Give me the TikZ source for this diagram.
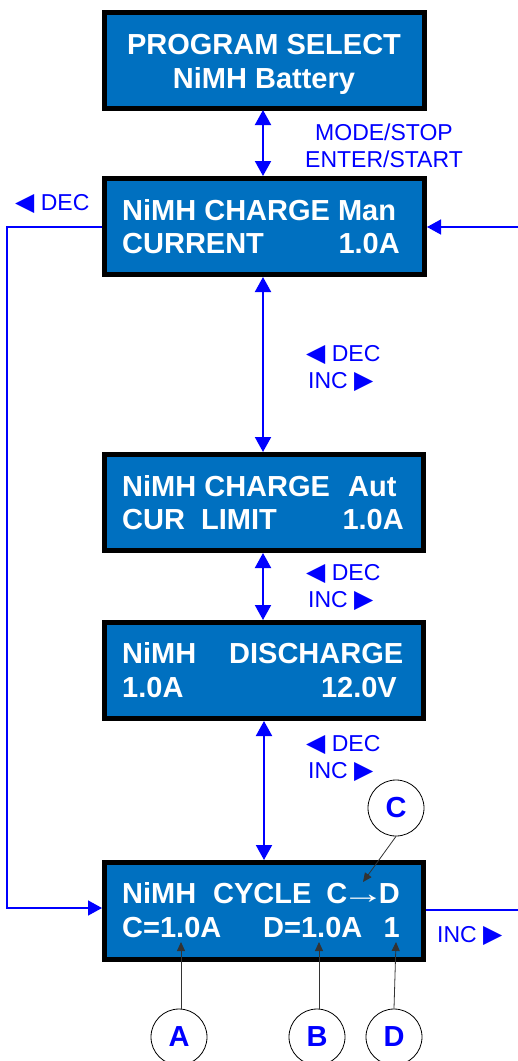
\documentclass[tikz,border=0pt]{standalone}
\usepackage{fontspec}
\setmainfont{Liberation Sans}
\newfontfamily\symfont{DejaVu Sans}
\usetikzlibrary{arrows.meta}
\definecolor{lcdblue}{RGB}{0,112,192}
\definecolor{linkblue}{RGB}{0,0,255}
\newcommand{\lefttri}{{\symfont\fontsize{25}{27}\selectfont ◀}}
\newcommand{\righttri}{{\symfont\fontsize{25}{27}\selectfont ▶}}
\tikzset{
  lcd/.style={draw=black,line width=5pt,fill=lcdblue},
  lcdtxt/.style={text=white,font=\fontsize{29}{34}\selectfont\bfseries,inner sep=0pt},
  lbl/.style={text=linkblue,font=\fontsize{23}{27}\selectfont,inner sep=0pt},
  link/.style={draw=linkblue,line width=2pt},
  loopline/.style={draw=linkblue,line width=1.4pt},
  bothtip/.style={{Triangle[width=16pt,length=15pt]}-{Triangle[width=16pt,length=15pt]}},
  endtip/.style={-{Triangle[width=15pt,length=14pt]}},
  callout/.style={circle,draw=black,line width=0.8pt,minimum size=56pt,inner sep=0pt,text=linkblue,font=\fontsize{29}{34}\selectfont\bfseries},
  pointer/.style={draw=black!80,line width=0.8pt,-{Triangle[width=8pt,length=9pt]}}
}
\begin{document}
\begin{tikzpicture}[x=1pt,y=-1pt]
\useasboundingbox (0,0) rectangle (518,1061);
% boxes
\path[lcd] (104.5,12.5) rectangle (424.5,108.5);
\path[lcd] (104.5,178.5) rectangle (424.5,274.5);
\path[lcd] (104.5,454.5) rectangle (423.5,550.5);
\path[lcd] (104.5,622.5) rectangle (423.5,718.5);
\path[lcd] (104.5,862.5) rectangle (423.5,959.5);
% anchors for connectors
\coordinate (b1b) at (263,110);
\coordinate (b2t) at (263,176);
\coordinate (b2b) at (263,277);
\coordinate (b3t) at (263,452);
\coordinate (b3b) at (263,553);
\coordinate (b4t) at (263,620);
\coordinate (b4b) at (264,721);
\coordinate (b5t) at (264,860);
\coordinate (b2l) at (102,227);
\coordinate (b2r) at (427,227);
\coordinate (b5l) at (102,908);
\coordinate (b5r) at (426,910);
\coordinate (leftc1) at (7,227);
\coordinate (leftc2) at (7,908);
\coordinate (rin) at (518,227);
\coordinate (rout) at (518,910);
% box texts
\node[lcdtxt,anchor=base] (t1a) at (264,54) {PROGRAM SELECT};
\node[lcdtxt,anchor=base] (t1b) at (264,88) {NiMH Battery};
\node[lcdtxt,anchor=base west] (t2a) at (122,220) {NiMH CHARGE Man};
\node[lcdtxt,anchor=base west] (t2b) at (122,253) {CURRENT};
\node[lcdtxt,anchor=base east] (t2c) at (400,253) {1.0A};
\node[lcdtxt,anchor=base west] (t3a) at (122,496) {NiMH CHARGE};
\node[lcdtxt,anchor=base west] (t3b) at (348,496) {Aut};
\node[lcdtxt,anchor=base west] (t3c) at (122,529) {CUR\ \ LIMIT};
\node[lcdtxt,anchor=base east] (t3d) at (404,529) {1.0A};
\node[lcdtxt,anchor=base west] (t4a) at (122,663) {NiMH};
\node[lcdtxt,anchor=base west] (t4b) at (229,663) {DISCHARGE};
\node[lcdtxt,anchor=base west] (t4c) at (122,697) {1.0A};
\node[lcdtxt,anchor=base east] (t4d) at (397,697) {12.0V};
\node[lcdtxt,anchor=base west] (t5a) at (122,903) {NiMH};
\node[lcdtxt,anchor=base west] (t5b) at (213,903) {CYCLE};
\node[lcdtxt,anchor=base east] (t5c) at (400,903) {C\hspace{-6pt}{\mdseries\scalebox{1.5}[1]{→}}\hspace{-6pt}D};
\node[lcdtxt,anchor=base west] (t5d) at (122,937) {C=1.0A};
\node[lcdtxt,anchor=base west] (t5e) at (263,937) {D=1.0A};
\node[lcdtxt,anchor=base east] (t5f) at (400,937) {1};
% vertical links
\draw[link,bothtip] (b1b) -- (b2t);
\draw[link,bothtip] (b2b) -- (b3t);
\draw[link,bothtip] (b3b) -- (b4t);
\draw[link,bothtip] (b4b) -- (b5t);
% loops
\draw[loopline,endtip] (b2l) -- (leftc1) -- (leftc2) -- (b5l);
\draw[loopline,endtip] (rin) -- (b2r);
\draw[loopline] (b5r) -- (rout);
% labels
\node[lbl,anchor=base] (l1) at (384,140) {MODE/STOP};
\node[lbl,anchor=base] (l2) at (384,167) {ENTER/START};
\node[lbl,anchor=base west] (l3) at (15,210) {\lefttri\ DEC};
\node[lbl,anchor=base west] (l4) at (306,361) {\lefttri\ DEC};
\node[lbl,anchor=base west] (l5) at (308,388) {INC \righttri};
\node[lbl,anchor=base west] (l6) at (306,580) {\lefttri\ DEC};
\node[lbl,anchor=base west] (l7) at (308,607) {INC \righttri};
\node[lbl,anchor=base west] (l8) at (306,751) {\lefttri\ DEC};
\node[lbl,anchor=base west] (l9) at (308,778) {INC \righttri};
\node[lbl,anchor=base west] (l10) at (437,942) {INC \righttri};
% callouts
\node[callout] (cC) at (396,808) {C};
\node[callout] (cA) at (179,1037) {A};
\node[callout] (cB) at (317,1037) {B};
\node[callout] (cD) at (394,1037) {D};
\coordinate (pC) at (363,882);
\coordinate (pA) at (181,942);
\coordinate (pB) at (319,942);
\coordinate (pD) at (396,942);
\draw[pointer] (cC.south) -- (pC);
\draw[pointer] (cA.north -| pA) -- (pA);
\draw[pointer] (cB.north -| pB) -- (pB);
\draw[pointer] (cD.north) -- (pD);
\end{tikzpicture}
\end{document}
